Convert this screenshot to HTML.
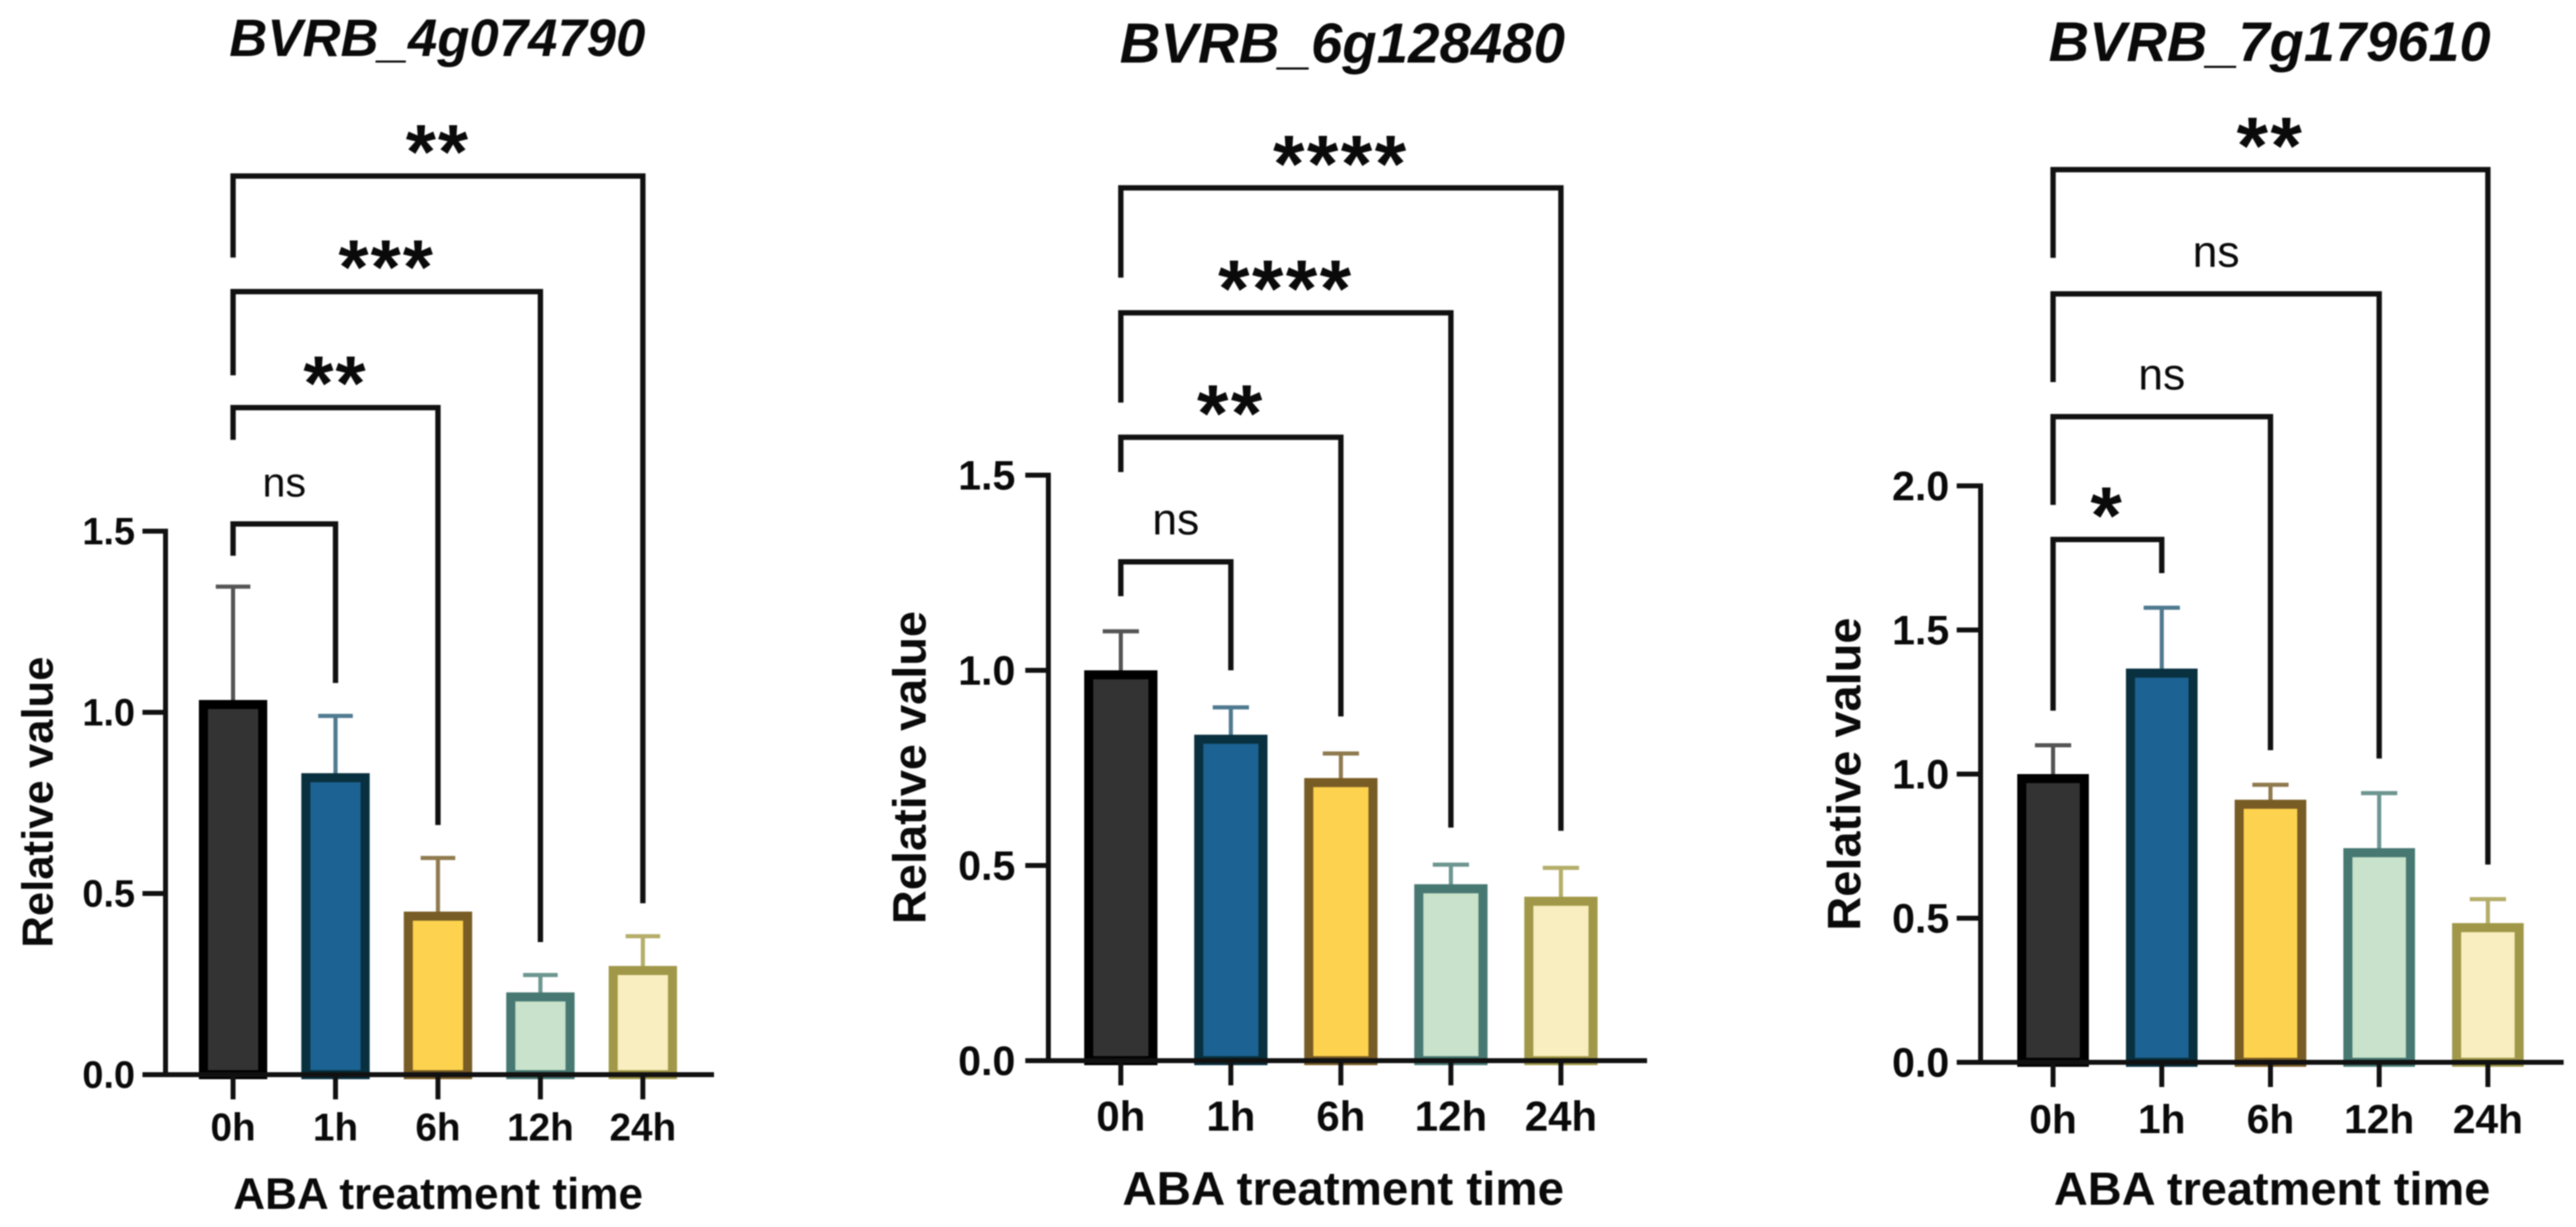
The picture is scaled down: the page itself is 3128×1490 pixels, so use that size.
<!DOCTYPE html>
<html lang="en">
<head>
<meta charset="utf-8">
<title>Relative expression after ABA treatment</title>
<style>
  html, body { margin: 0; padding: 0; background: #fff; }
  svg { display: block; filter: blur(0.8px); }
  text { font-family: "Liberation Sans", Arial, sans-serif; fill: #0a0a0a; }
</style>
</head>
<body>
<svg id="figure" xmlns="http://www.w3.org/2000/svg" width="3128" height="1490" viewBox="0 0 3128 1490">
  <rect x="0" y="0" width="3128" height="1490" fill="#ffffff"></rect>
</svg>
<script>
// ---------- data ----------
const timePoints = ['0h', '1h', '6h', '12h', '24h'];

const geneA = 'BVRB_4g074790';
const geneAValues = [1.034, 0.832, 0.45, 0.227, 0.30];
const geneAErrorTops = [1.347, 0.99, 0.598, 0.275, 0.382];
const geneATicks = [0, 0.5, 1.0, 1.5];
const geneASig = ['ns', '**', '***', '**'];
const geneABracketTop = [1.520, 1.841, 2.161, 2.480];
const geneABracketStart = [1.432, 1.752, 1.930, 2.255];

const geneB = 'BVRB_6g128480';
const geneBValues = [1.0, 0.835, 0.724, 0.452, 0.42];
const geneBErrorTops = [1.10, 0.905, 0.787, 0.502, 0.494];
const geneBTicks = [0, 0.5, 1.0, 1.5];
const geneBSig = ['ns', '**', '****', '****'];
const geneBBracketTop = [1.278, 1.597, 1.916, 2.236];
const geneBBracketStart = [1.190, 1.508, 1.686, 2.006];

const geneC = 'BVRB_7g179610';
const geneCValues = [1.0, 1.366, 0.911, 0.743, 0.483];
const geneCErrorTops = [1.10, 1.577, 0.963, 0.934, 0.566];
const geneCTicks = [0, 0.5, 1.0, 1.5, 2.0];
const geneCSig = ['*', 'ns', 'ns', '**'];
const geneCBracketTop = [1.814, 2.240, 2.666, 3.097];
const geneCBracketStart = [1.22, 1.934, 2.36, 2.791];

// ---------- styles per time point ----------
const barFills = ['#333333', '#1c6292', '#fdd24e', '#c8e2cb', '#f8eebf'];
const barStrokes = ['#000000', '#08303f', '#785c25', '#477872', '#a09848'];
const errorColors = ['#555555', '#4f7a90', '#8f7a4e', '#6d9690', '#b5ae6a'];

const NS = 'http://www.w3.org/2000/svg';
const svg = document.getElementById('figure');

function make(tag, attrs, parent, text) {
  const node = document.createElementNS(NS, tag);
  for (const k in attrs) node.setAttribute(k, attrs[k]);
  if (text !== undefined) node.textContent = text;
  parent.appendChild(node);
  return node;
}

function drawChart(d, g) {
  const yMax = d.ticks[d.ticks.length - 1];
  const yScale = v => g.y0 - (v / yMax) * (g.y0 - g.yTop);
  const xScale = i => g.x0 + i * g.step;

  const group = make('g', {}, svg);
  
  

  const title = make('text', { x: g.titleX, y: g.titleY, 'text-anchor': 'middle', 'font-size': g.titleSize, 'font-weight': 'bold', 'font-style': 'italic' }, group, d.gene);
  
  

  // bars and error bars
  d.categories.forEach((cat, i) => {
    const cx = xScale(i);
    const top = yScale(d.values[i]);
    const errTop = yScale(d.errors[i]);

    const errLine = make('line', { x1: cx, x2: cx, y1: errTop, y2: top + 4, stroke: errorColors[i], 'stroke-width': g.errWidth }, group);
    
    

    const errCap = make('line', { x1: cx - g.capHalf, x2: cx + g.capHalf, y1: errTop, y2: errTop, stroke: errorColors[i], 'stroke-width': g.errWidth }, group);
    
    

    const bar = make('rect', { x: cx - g.barW / 2 + g.barStroke / 2, y: top + g.barStroke / 2, width: g.barW - g.barStroke, height: Math.max(0, g.y0 - top - g.barStroke / 2), fill: barFills[i], stroke: barStrokes[i], 'stroke-width': g.barStroke }, group);
    
    
  });

  // axes
  const yAxis = make('line', { x1: g.axisX, x2: g.axisX, y1: g.yTop - 3, y2: g.y0 + 3, stroke: '#111', 'stroke-width': g.axisWidth }, group);
  
  

  const xAxis = make('line', { x1: g.tickLeft, x2: g.axisEnd, y1: g.y0, y2: g.y0, stroke: '#111', 'stroke-width': g.axisWidth }, group);
  
  

  d.ticks.forEach(t => {
    const y = yScale(t);
    const tick = make('line', { x1: g.tickLeft, x2: g.axisX, y1: y, y2: y, stroke: '#111', 'stroke-width': g.axisWidth }, group);
    
    

    const label = make('text', { x: g.yLabelX, y: y + g.yTickSize * 0.35, 'text-anchor': 'end', 'font-size': g.yTickSize, 'font-weight': 'bold' }, group, t.toFixed(1));
    
    
  });

  d.categories.forEach((cat, i) => {
    const cx = xScale(i);
    const tick = make('line', { x1: cx, x2: cx, y1: g.y0, y2: g.y0 + 30, stroke: '#111', 'stroke-width': g.axisWidth }, group);
    
    

    const label = make('text', { x: cx, y: g.xLabelY, 'text-anchor': 'middle', 'font-size': g.xTickSize, 'font-weight': 'bold' }, group, cat);
    
    
  });

  const xTitle = make('text', { x: g.xTitleX, y: g.xTitleY, 'text-anchor': 'middle', 'font-size': g.xTitleSize, 'font-weight': 'bold' }, group, 'ABA treatment time');
  
  

  const yTitle = make('text', { transform: 'translate(' + g.yTitleX + ',' + g.yTitleY + ') rotate(-90)', 'text-anchor': 'middle', 'font-size': g.yTitleSize, 'font-weight': 'bold' }, group, 'Relative value');
  
  

  // significance brackets
  d.sig.forEach((sig, i) => {
    const xl = xScale(0);
    const xr = xScale(i + 1);
    const top = yScale(d.bracketTop[i]);
    const start = yScale(d.bracketStart[i]);
    const end = yScale(d.errors[i + 1]) - g.bracketGap;

    const bracket = make('path', { d: 'M' + xl + ' ' + start + ' V' + top + ' H' + xr + ' V' + end, fill: 'none', stroke: '#111', 'stroke-width': g.bracketWidth }, group);
    
    

    const mid = (xl + xr) / 2;
    const isNs = sig === 'ns';
    const label = isNs
      ? make('text', { x: mid, y: top - 33, 'text-anchor': 'middle', 'font-size': g.nsSize }, group, sig)
      : make('text', { x: mid, y: top - 52 + g.starSize * 0.58, 'text-anchor': 'middle', 'font-size': g.starSize, 'font-weight': 'bold', 'letter-spacing': g.starGap }, group, sig);
    
    
  });
}

drawChart(
  { gene: geneA, categories: timePoints, values: geneAValues, errors: geneAErrorTops, ticks: geneATicks, sig: geneASig, bracketTop: geneABracketTop, bracketStart: geneABracketStart },
  { axisX: 201, axisEnd: 867, tickLeft: 173, y0: 1305, yTop: 645, x0: 283, step: 124.4, barW: 83, barStroke: 11, errWidth: 5, capHalf: 21, axisWidth: 6, bracketWidth: 6.5, bracketGap: 40,
    titleX: 531, titleY: 68, titleSize: 64, yLabelX: 164, yTickSize: 46, xLabelY: 1385, xTickSize: 47, xTitleX: 532, xTitleY: 1468, xTitleSize: 53.5, yTitleX: 64, yTitleY: 974, yTitleSize: 53, nsSize: 50, starSize: 94, starGap: 2.5 }
);

drawChart(
  { gene: geneB, categories: timePoints, values: geneBValues, errors: geneBErrorTops, ticks: geneBTicks, sig: geneBSig, bracketTop: geneBBracketTop, bracketStart: geneBBracketStart },
  { axisX: 1273, axisEnd: 2000, tickLeft: 1245, y0: 1288, yTop: 577, x0: 1361, step: 133.6, barW: 89, barStroke: 11, errWidth: 5, capHalf: 22, axisWidth: 6, bracketWidth: 6.5, bracketGap: 45,
    titleX: 1630, titleY: 76, titleSize: 68.5, yLabelX: 1233, yTickSize: 50, xLabelY: 1373, xTickSize: 51, xTitleX: 1631, xTitleY: 1463, xTitleSize: 57.7, yTitleX: 1124, yTitleY: 932, yTitleSize: 57, nsSize: 54, starSize: 98, starGap: 3 }
);

drawChart(
  { gene: geneC, categories: timePoints, values: geneCValues, errors: geneCErrorTops, ticks: geneCTicks, sig: geneCSig, bracketTop: geneCBracketTop, bracketStart: geneCBracketStart },
  { axisX: 2405, axisEnd: 3113, tickLeft: 2376, y0: 1290, yTop: 590, x0: 2493, step: 132, barW: 87, barStroke: 11, errWidth: 5, capHalf: 22, axisWidth: 6, bracketWidth: 6.5, bracketGap: 42,
    titleX: 2756, titleY: 74, titleSize: 68, yLabelX: 2367, yTickSize: 50, xLabelY: 1376, xTickSize: 49.5, xTitleX: 2759, xTitleY: 1463, xTitleSize: 57, yTitleX: 2259, yTitleY: 940, yTitleSize: 57, nsSize: 54, starSize: 98, starGap: 3 }
);
</script>
</body>
</html>
